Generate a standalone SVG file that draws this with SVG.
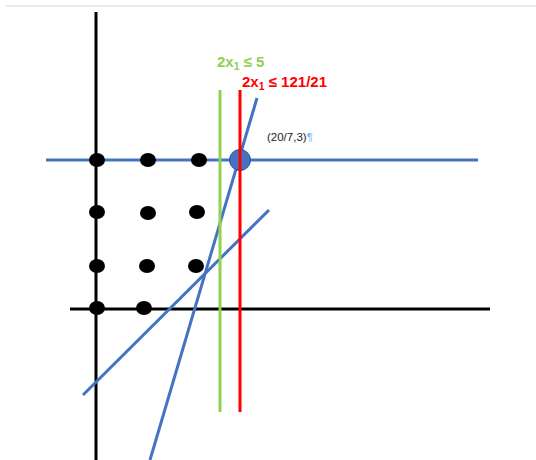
<svg xmlns="http://www.w3.org/2000/svg" width="536" height="460" viewBox="0 0 536 460">
<style>
.axis{stroke:#000;stroke-width:3;fill:none}
.blue{stroke:#4472C4;stroke-width:3;fill:none}
.dot{fill:#000}
.lbl{font-family:"Liberation Sans",Arial,sans-serif;font-weight:bold;font-size:15px}
.pt{font-family:"Liberation Sans",Arial,sans-serif;font-size:11.5px;fill:#222}
</style>
<rect width="536" height="460" fill="#fff"/>
<line x1="6" y1="6" x2="536" y2="6" stroke="#e2e2e2" stroke-width="1.5"/>
<g id="connectors">
<line class="axis" x1="96" y1="12" x2="96" y2="460"/>
<line class="axis" x1="70" y1="309" x2="490" y2="309"/>
<line class="blue" x1="46" y1="160" x2="478" y2="160"/>
<line class="blue" x1="257" y1="98" x2="150" y2="460"/>
<line class="blue" x1="269" y1="210" x2="83" y2="395"/>
<line x1="220" y1="90" x2="220" y2="412" stroke="#92D050" stroke-width="3"/>
<line x1="240" y1="90" x2="240" y2="412" stroke="#FF0000" stroke-width="3"/>
</g>
<g id="dots">
<ellipse class="dot" cx="97" cy="160" rx="8" ry="7"/>
<ellipse class="dot" cx="148" cy="160" rx="8" ry="7"/>
<ellipse class="dot" cx="199" cy="160" rx="8" ry="7"/>
<ellipse class="dot" cx="97" cy="212" rx="8" ry="7"/>
<ellipse class="dot" cx="148" cy="213" rx="8" ry="7"/>
<ellipse class="dot" cx="197" cy="212" rx="8" ry="7"/>
<ellipse class="dot" cx="97" cy="266" rx="8" ry="7"/>
<ellipse class="dot" cx="147" cy="266" rx="8" ry="7"/>
<ellipse class="dot" cx="196" cy="266" rx="8" ry="7"/>
<ellipse class="dot" cx="97" cy="308" rx="8" ry="7"/>
<ellipse class="dot" cx="144" cy="308" rx="8" ry="7"/>
</g>
<g id="vertex">
<circle cx="240" cy="160" r="10.5" fill="#4472C4" stroke="#2F528F" stroke-width="1"/>
<line x1="240" y1="149" x2="240" y2="171" stroke="#FF0000" stroke-width="3"/>
</g>
<g id="label-green">
<text class="lbl" x="217" y="67" fill="#92D050">2x<tspan font-size="10.5" dy="3">1</tspan><tspan dy="-3"> ≤ 5</tspan></text>
</g>
<g id="label-red">
<text class="lbl" x="242" y="87" fill="#FF0000">2x<tspan font-size="10.5" dy="3">1</tspan><tspan dy="-3"> ≤ 121/21</tspan></text>
</g>
<g id="label-point">
<text class="pt" x="267" y="141">(20/7,3)<tspan fill="#6FB7F0">¶</tspan></text>
</g>
</svg>
